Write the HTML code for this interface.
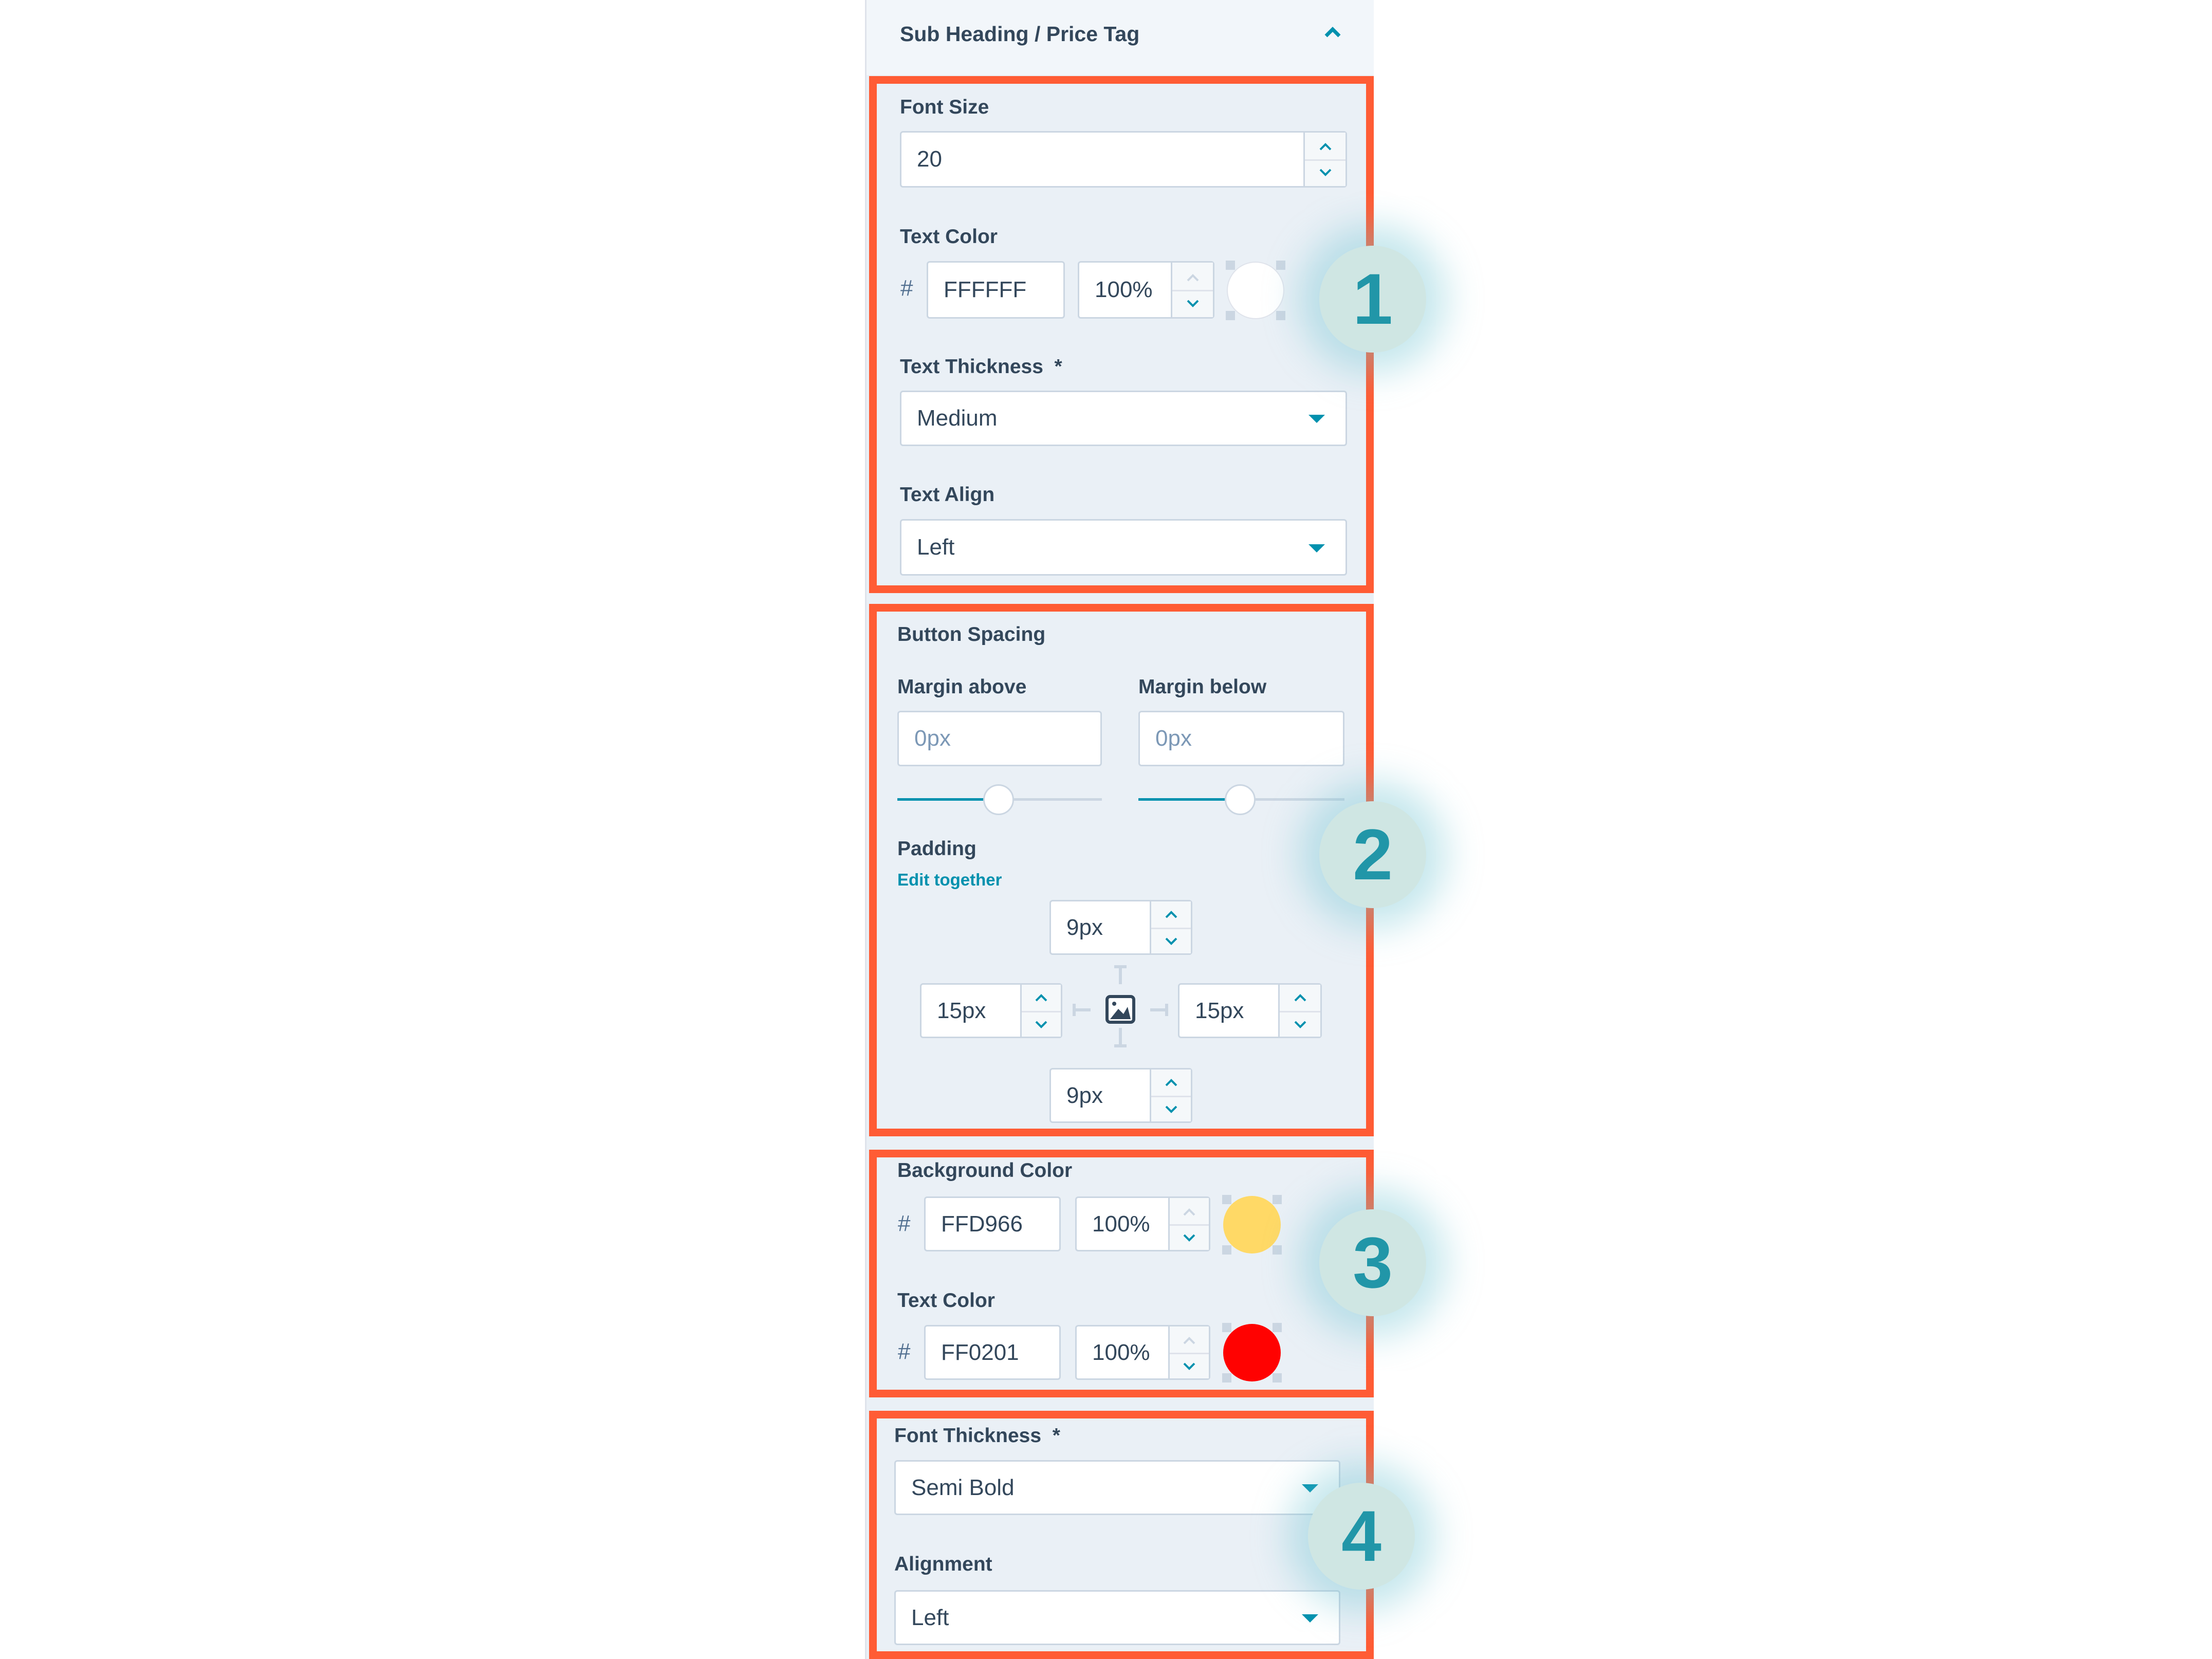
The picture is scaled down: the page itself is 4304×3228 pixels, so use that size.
<!DOCTYPE html>
<html><head><meta charset="utf-8"><style>
*{margin:0;padding:0;box-sizing:border-box}
body{width:4304px;height:3228px;background:#fff;position:relative;overflow:hidden;font-family:"Liberation Sans",sans-serif;color:#33475b}
.a{position:absolute}
.lbl{position:absolute;font-weight:bold;font-size:39px;line-height:50px;height:50px;color:#33475b;white-space:nowrap}
.inp{position:absolute;background:#fff;border:3px solid #cbd6e2;border-radius:6px;font-size:44px;color:#33475b;padding-left:30px;display:flex;align-items:center}
.ph{color:#7c98b6}
.sp{position:absolute;top:0;bottom:0;border-left:3px solid #cbd6e2;background:#f5f8fa}
.sp:after{content:"";position:absolute;left:0;right:0;top:50%;border-top:3px solid #dfe3eb}
.sp svg{position:absolute;left:50%;margin-left:-14px;width:28px;height:18px}
.box{position:absolute;border:15px solid #ff5c35}
.badge{position:absolute;width:208px;height:208px;border-radius:50%;background:#cfe6e3;box-shadow:0 0 70px 40px rgba(110,195,210,.4);color:#2196a8;font-weight:bold;font-size:140px;line-height:208px;text-align:center}
.caret{position:absolute;width:0;height:0;border-left:16px solid transparent;border-right:16px solid transparent;border-top:16px solid #0091ae}
.sw{position:absolute;width:116px;height:116px}
.sw .c{position:absolute;inset:2px;border-radius:50%}
.sw .k{position:absolute;width:18px;height:18px;background:#cbd6e2}
</style></head><body>
<div class="a" style="left:1683px;top:0;width:990px;height:3228px;background:#eaf0f6;border-left:3px solid #dfe3eb"></div>
<div class="a" style="left:1686px;top:0;width:987px;height:146px;background:#f2f6fa"></div>
<div class="lbl" style="left:1751px;top:41px;font-size:41px">Sub Heading / Price Tag</div>
<svg class="a" style="left:2576px;top:52px" width="34" height="22"><polyline points="4,18 17,5 30,18" fill="none" stroke="#0091ae" stroke-width="7"/></svg>

<div class="box" style="left:1691px;top:148px;width:982px;height:1006px"></div>
<div class="lbl" style="left:1751px;top:184px">Font Size</div>
<div class="inp" style="left:1751px;top:255px;width:870px;height:110px">20
 <div class="sp" style="left:782px;width:82px"><svg style="top:18px"><polyline points="4,15 14,5 24,15" fill="none" stroke="#0091ae" stroke-width="4"/></svg><svg style="top:68px"><polyline points="4,4 14,14 24,4" fill="none" stroke="#0091ae" stroke-width="4"/></svg></div></div>
<div class="lbl" style="left:1751px;top:436px">Text Color</div>
<div class="a" style="left:1752px;top:536px;font-size:44px;color:#516f90">#</div>
<div class="inp" style="left:1803px;top:508px;width:269px;height:112px">FFFFFF</div>
<div class="inp" style="left:2097px;top:508px;width:266px;height:112px">100%
 <div class="sp" style="left:178px;width:82px"><svg style="top:20px"><polyline points="4,15 14,5 24,15" fill="none" stroke="#cbd6e2" stroke-width="4"/></svg><svg style="top:70px"><polyline points="4,4 14,14 24,4" fill="none" stroke="#0091ae" stroke-width="4"/></svg></div></div>
<div class="sw" style="left:2385px;top:507px"><div class="k" style="left:0;top:0"></div><div class="k" style="right:0;top:0"></div><div class="k" style="left:0;bottom:0"></div><div class="k" style="right:0;bottom:0"></div><div class="c" style="background:#fff;border:2px solid #dfe3eb"></div></div>
<div class="lbl" style="left:1751px;top:689px">Text Thickness &nbsp;*</div>
<div class="inp" style="left:1751px;top:760px;width:870px;height:108px">Medium<div class="caret" style="left:792px;top:44px"></div></div>
<div class="lbl" style="left:1751px;top:938px">Text Align</div>
<div class="inp" style="left:1751px;top:1010px;width:870px;height:110px">Left<div class="caret" style="left:792px;top:46px"></div></div>

<div class="box" style="left:1691px;top:1175px;width:982px;height:1036px"></div>
<div class="lbl" style="left:1746px;top:1210px">Button Spacing</div>
<div class="lbl" style="left:1746px;top:1312px">Margin above</div>
<div class="lbl" style="left:2215px;top:1312px">Margin below</div>
<div class="inp ph" style="left:1746px;top:1383px;width:398px;height:108px">0px</div>
<div class="inp ph" style="left:2215px;top:1383px;width:401px;height:108px">0px</div>
<div class="a" style="left:1746px;top:1553px;width:398px;height:5px;background:#cbd6e2"></div>
<div class="a" style="left:1746px;top:1553px;width:197px;height:5px;background:#0091ae"></div>
<div class="a" style="left:1913px;top:1526px;width:60px;height:60px;border-radius:50%;background:#fff;border:3px solid #cbd6e2"></div>
<div class="a" style="left:2215px;top:1553px;width:401px;height:5px;background:#cbd6e2"></div>
<div class="a" style="left:2215px;top:1553px;width:198px;height:5px;background:#0091ae"></div>
<div class="a" style="left:2383px;top:1526px;width:60px;height:60px;border-radius:50%;background:#fff;border:3px solid #cbd6e2"></div>
<div class="lbl" style="left:1746px;top:1627px">Padding</div>
<div class="lbl" style="left:1746px;top:1687px;font-size:33px;color:#0091ae">Edit together</div>
<div class="inp" style="left:2042px;top:1751px;width:278px;height:107px">9px
 <div class="sp" style="left:192px;width:80px"><svg style="top:16px"><polyline points="4,15 14,5 24,15" fill="none" stroke="#0091ae" stroke-width="4"/></svg><svg style="top:68px"><polyline points="4,4 14,14 24,4" fill="none" stroke="#0091ae" stroke-width="4"/></svg></div></div>
<div class="inp" style="left:1790px;top:1913px;width:277px;height:107px">15px
 <div class="sp" style="left:192px;width:79px"><svg style="top:16px"><polyline points="4,15 14,5 24,15" fill="none" stroke="#0091ae" stroke-width="4"/></svg><svg style="top:68px"><polyline points="4,4 14,14 24,4" fill="none" stroke="#0091ae" stroke-width="4"/></svg></div></div>
<div class="inp" style="left:2292px;top:1913px;width:280px;height:107px">15px
 <div class="sp" style="left:192px;width:82px"><svg style="top:16px"><polyline points="4,15 14,5 24,15" fill="none" stroke="#0091ae" stroke-width="4"/></svg><svg style="top:68px"><polyline points="4,4 14,14 24,4" fill="none" stroke="#0091ae" stroke-width="4"/></svg></div></div>
<div class="inp" style="left:2042px;top:2078px;width:278px;height:107px">9px
 <div class="sp" style="left:192px;width:80px"><svg style="top:16px"><polyline points="4,15 14,5 24,15" fill="none" stroke="#0091ae" stroke-width="4"/></svg><svg style="top:68px"><polyline points="4,4 14,14 24,4" fill="none" stroke="#0091ae" stroke-width="4"/></svg></div></div>
<svg class="a" style="left:2080px;top:1875px" width="200" height="180">
 <g stroke="#cbd6e2" stroke-width="6" fill="none">
  <line x1="100" y1="6" x2="100" y2="40"/><line x1="88" y1="6" x2="112" y2="6"/>
  <line x1="100" y1="125" x2="100" y2="160"/><line x1="88" y1="160" x2="112" y2="160"/>
  <line x1="10" y1="90" x2="42" y2="90"/><line x1="10" y1="78" x2="10" y2="102"/>
  <line x1="158" y1="90" x2="190" y2="90"/><line x1="190" y1="78" x2="190" y2="102"/>
 </g>
 <rect x="74" y="64" width="52" height="50" rx="6" fill="#fff" stroke="#33475b" stroke-width="6"/>
 <polygon points="80,108 96,88 106,98 114,84 120,108" fill="#33475b"/>
 <circle cx="88" cy="78" r="4" fill="#33475b"/>
</svg>

<div class="box" style="left:1691px;top:2237px;width:982px;height:482px"></div>
<div class="lbl" style="left:1746px;top:2253px">Background Color</div>
<div class="a" style="left:1747px;top:2356px;font-size:44px;color:#516f90">#</div>
<div class="inp" style="left:1798px;top:2328px;width:266px;height:107px">FFD966</div>
<div class="inp" style="left:2092px;top:2328px;width:263px;height:107px">100%
 <div class="sp" style="left:178px;width:79px"><svg style="top:18px"><polyline points="4,15 14,5 24,15" fill="none" stroke="#cbd6e2" stroke-width="4"/></svg><svg style="top:68px"><polyline points="4,4 14,14 24,4" fill="none" stroke="#0091ae" stroke-width="4"/></svg></div></div>
<div class="sw" style="left:2378px;top:2325px"><div class="k" style="left:0;top:0"></div><div class="k" style="right:0;top:0"></div><div class="k" style="left:0;bottom:0"></div><div class="k" style="right:0;bottom:0"></div><div class="c" style="background:#ffd966"></div></div>
<div class="lbl" style="left:1746px;top:2506px">Text Color</div>
<div class="a" style="left:1747px;top:2605px;font-size:44px;color:#516f90">#</div>
<div class="inp" style="left:1798px;top:2578px;width:266px;height:107px">FF0201</div>
<div class="inp" style="left:2092px;top:2578px;width:263px;height:107px">100%
 <div class="sp" style="left:178px;width:79px"><svg style="top:18px"><polyline points="4,15 14,5 24,15" fill="none" stroke="#cbd6e2" stroke-width="4"/></svg><svg style="top:68px"><polyline points="4,4 14,14 24,4" fill="none" stroke="#0091ae" stroke-width="4"/></svg></div></div>
<div class="sw" style="left:2378px;top:2574px"><div class="k" style="left:0;top:0"></div><div class="k" style="right:0;top:0"></div><div class="k" style="left:0;bottom:0"></div><div class="k" style="right:0;bottom:0"></div><div class="c" style="background:#ff0201"></div></div>

<div class="box" style="left:1691px;top:2745px;width:982px;height:483px"></div>
<div class="lbl" style="left:1740px;top:2769px">Font Thickness &nbsp;*</div>
<div class="inp" style="left:1740px;top:2841px;width:868px;height:107px">Semi Bold<div class="caret" style="left:790px;top:44px"></div></div>
<div class="lbl" style="left:1740px;top:3019px">Alignment</div>
<div class="inp" style="left:1740px;top:3094px;width:868px;height:107px">Left<div class="caret" style="left:790px;top:44px"></div></div>

<div class="badge" style="left:2567px;top:478px">1</div>
<div class="badge" style="left:2567px;top:1559px">2</div>
<div class="badge" style="left:2567px;top:2353px">3</div>
<div class="badge" style="left:2545px;top:2885px">4</div>
</body></html>
